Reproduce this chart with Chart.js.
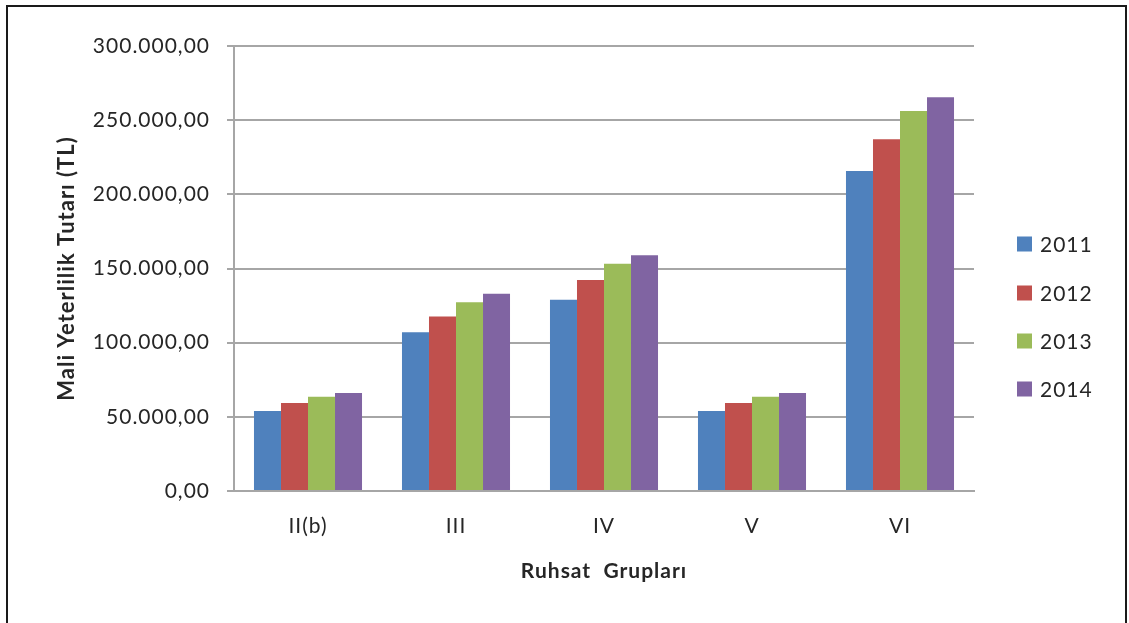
<!DOCTYPE html>
<html><head><meta charset="utf-8">
<script src="https://cdn.jsdelivr.net/npm/chart.js@4/dist/chart.umd.min.js"></script>
<style>html,body{margin:0;padding:0;background:#fff}#wrap{width:1129px;height:623px;position:relative}</style>
</head><body><div id="wrap"><canvas id="c" width="1129" height="623"></canvas></div>
<script>
const categories = ['II(b)', 'III', 'IV', 'V', 'VI'];
const seriesNames = ['2011', '2012', '2013', '2014'];
const v2011 = [54000, 107000, 129000, 54000, 215700];
const v2012 = [59400, 117600, 142300, 59400, 237200];
const v2013 = [63600, 127200, 153200, 63600, 256100];
const v2014 = [66100, 132900, 158900, 66100, 265500];
const yTicks = [0, 50000, 100000, 150000, 200000, 250000, 300000];
const yTickLabels = ['0,00', '50.000,00', '100.000,00', '150.000,00', '200.000,00', '250.000,00', '300.000,00'];
const colors = ['#4F81BD', '#C0504D', '#9BBB59', '#8064A2'];
const allValues = [v2011, v2012, v2013, v2014];

const FONT = 'Lato, "DejaVu Sans", sans-serif';
const TXT = '#262626';

const spacing = {
  id: 'spacing',
  beforeInit(chart) { chart.ctx.letterSpacing = '1px'; },
  beforeLayout(chart) { chart.ctx.letterSpacing = '1px'; },
  beforeDraw(chart) { chart.ctx.letterSpacing = '1px'; }
};

const frame = {
  id: 'frame',
  afterDraw(chart) {
    const ctx = chart.ctx;
    ctx.save();
    ctx.strokeStyle = '#1a1a1a';
    ctx.lineWidth = 2;
    ctx.strokeRect(7, 6, 1119, 700);
    ctx.font = '21px ' + FONT;
    ctx.textBaseline = 'middle';
    ctx.textAlign = 'left';
    const ys = [244, 293, 341, 389];
    chart.data.datasets.forEach((ds, i) => {
      ctx.fillStyle = ds.backgroundColor;
      ctx.fillRect(1017, ys[i] - 7.5, 15, 15);
      ctx.fillStyle = TXT;
      ctx.fillText(ds.label, 1040, ys[i] + 1);
    });
    ctx.restore();
  }
};

new Chart(document.getElementById('c'), {
  type: 'bar',
  data: {
    labels: categories,
    datasets: seriesNames.map((n, i) => ({
      label: n,
      data: allValues[i],
      backgroundColor: colors[i],
      borderWidth: 0,
      categoryPercentage: 0.73,
      barPercentage: 1.0
    }))
  },
  options: {
    responsive: false,
    animation: false,
    layout: { padding: { left: 0, right: 155, top: 46, bottom: 0 } },
    plugins: { legend: { display: false }, tooltip: { enabled: false } },
    scales: {
      x: {
        grid: { display: false, drawTicks: false },
        border: { display: true, color: '#a6a6a6', width: 2 },
        ticks: { color: TXT, font: { family: FONT, size: 21 }, padding: 23 },
        title: { display: true, text: 'Ruhsat  Grupları', color: TXT, font: { family: FONT, size: 21, weight: 'bold' }, padding: { top: 0, bottom: 39 } },
        afterFit(s) { s.height = 132; }
      },
      y: {
        min: 0, max: 300000,
        afterBuildTicks(s) { s.ticks = yTicks.map(v => ({ value: v })); },
        grid: { color: '#a6a6a6', lineWidth: 2, tickLength: 7, drawTicks: true },
        border: { display: true, color: '#a6a6a6', width: 2 },
        ticks: {
          color: TXT, font: { family: FONT, size: 21 }, padding: 17,
          callback(v) { const k = yTicks.indexOf(v); return k >= 0 ? yTickLabels[k] : ''; }
        },
        title: { display: true, text: 'Mali Yeterlilik Tutarı (TL)', color: TXT, font: { family: FONT, size: 22, weight: 'bold' }, padding: { top: 54, bottom: 0 } },
        afterFit(s) { s.width = 234; }
      }
    }
  },
  plugins: [spacing, frame]
});
</script></body></html>
